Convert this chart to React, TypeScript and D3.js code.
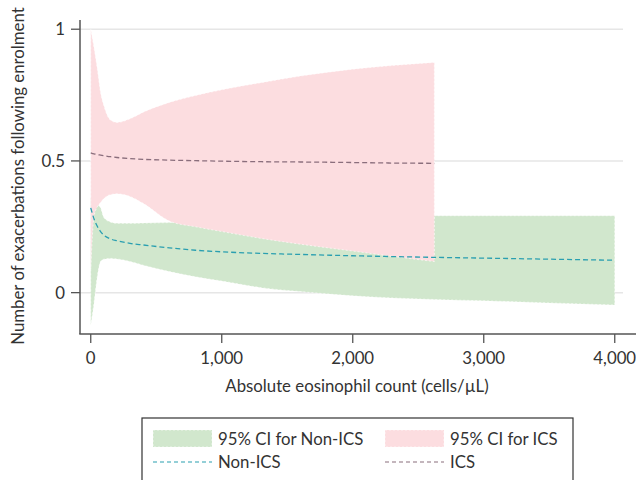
import React, { useEffect, useRef } from 'react'
import * as d3 from 'd3'

// eosinophil count positions (cells/µL) where the curves were read
const eosX = [0, 25, 50, 75, 100, 150, 200, 300, 400, 600, 800, 1000, 1300, 1600, 2000, 2300, 2623, 3000, 3500, 4000]

// Non-ICS: fitted line and 95% CI
const nonIcsFit = [0.322, 0.28, 0.252, 0.232, 0.218, 0.204, 0.197, 0.187, 0.181, 0.17, 0.161, 0.155, 0.149, 0.145, 0.14, 0.137, 0.134, 0.131, 0.127, 0.123]
const nonIcsLow = [-0.125, -0.04, 0.06, 0.118, 0.127, 0.13, 0.128, 0.118, 0.104, 0.08, 0.06, 0.044, 0.019, 0.004, -0.012, -0.02, -0.026, -0.031, -0.039, -0.047]
const nonIcsHigh = [0.36, 0.345, 0.335, 0.322, 0.285, 0.268, 0.263, 0.263, 0.264, 0.266, 0.27, 0.273, 0.277, 0.281, 0.286, 0.289, 0.292, 0.292, 0.292, 0.292]

// ICS: fitted line and 95% CI (data stops at 2623)
const icsFit = [0.531, 0.527, 0.524, 0.522, 0.52, 0.516, 0.513, 0.509, 0.506, 0.503, 0.501, 0.499, 0.497, 0.496, 0.494, 0.492, 0.491]
const icsLow = [0.09, 0.29, 0.325, 0.342, 0.357, 0.372, 0.375, 0.365, 0.339, 0.272, 0.25, 0.232, 0.206, 0.184, 0.158, 0.138, 0.118]
const icsHigh = [1.0, 0.93, 0.85, 0.76, 0.71, 0.655, 0.646, 0.66, 0.685, 0.722, 0.748, 0.77, 0.797, 0.822, 0.848, 0.862, 0.874]

const xTicks = [0, 1000, 2000, 3000, 4000]
const yTicks = [0, 0.5, 1]

const GREEN = '#d1e7cd'
const PINK = '#fcdde0'
const TEAL = '#2a9fb0'
const MAUVE = '#8a6e7c'
const FONT = 'Lato, "Open Sans", sans-serif'
const FS = 16.8

const App = () => {
  const ref = useRef<SVGSVGElement>(null)

  useEffect(() => {
    const svg = d3.select(ref.current)
    svg.selectAll('*').remove()

    const x = d3.scaleLinear().domain([-82, 4063]).range([80, 623])
    const y = d3.scaleLinear().domain([-0.157, 1.035]).range([334, 20])

    // grid
    svg
      .append('g')
      .selectAll('line')
      .data(yTicks)
      .join('line')
      .attr('x1', 80)
      .attr('x2', 623)
      .attr('y1', (d) => y(d))
      .attr('y2', (d) => y(d))
      .attr('stroke', '#e6e6e6')
      .attr('stroke-width', 1.5)

    const band = (xs: number[], lo: number[], hi: number[]) =>
      d3
        .area<number>()
        .x((d) => x(xs[d]))
        .y0((d) => y(lo[d]))
        .y1((d) => y(hi[d]))
        .curve(d3.curveMonotoneX)(d3.range(lo.length))

    const line = (xs: number[], v: number[]) =>
      d3
        .line<number>()
        .x((d) => x(xs[d]))
        .y((d) => y(v[d]))
        .curve(d3.curveMonotoneX)(d3.range(v.length))

    const bands = [
      { d: band(eosX, nonIcsLow, nonIcsHigh), fill: GREEN },
      { d: band(eosX, icsLow, icsHigh), fill: PINK },
    ]
    bands.forEach((b) => {
      svg
        .append('path')
        .attr('d', b.d)
        .attr('fill', b.fill)
        .attr('stroke', '#fff')
        .attr('stroke-opacity', 0.6)
        .attr('stroke-width', 1)
        .attr('stroke-dasharray', '2,2')
    })

    svg
      .append('path')
      .attr('d', line(eosX, nonIcsFit))
      .attr('fill', 'none')
      .attr('stroke', TEAL)
      .attr('stroke-width', 1.3)
      .attr('stroke-dasharray', '5,3')
    svg
      .append('path')
      .attr('d', line(eosX, icsFit))
      .attr('fill', 'none')
      .attr('stroke', MAUVE)
      .attr('stroke-width', 1.3)
      .attr('stroke-dasharray', '5,3')

    // axes
    const axisColor = '#555'
    svg
      .append('line')
      .attr('x1', 80)
      .attr('x2', 80)
      .attr('y1', 20)
      .attr('y2', 334)
      .attr('stroke', axisColor)
      .attr('stroke-width', 1.5)
    svg
      .append('line')
      .attr('x1', 79.25)
      .attr('x2', 636)
      .attr('y1', 334)
      .attr('y2', 334)
      .attr('stroke', axisColor)
      .attr('stroke-width', 1.5)

    const yt = svg.append('g').selectAll('g').data(yTicks).join('g')
    yt.append('line')
      .attr('x1', 71)
      .attr('x2', 80)
      .attr('y1', (d) => y(d))
      .attr('y2', (d) => y(d))
      .attr('stroke', axisColor)
      .attr('stroke-width', 1.3)
    yt.append('text')
      .attr('x', 65)
      .attr('y', (d) => y(d))
      .attr('dy', '0.35em')
      .attr('text-anchor', 'end')
      .attr('font-family', FONT)
      .attr('font-size', FS)
      .attr('fill', '#333')
      .text((d) => String(d))

    const xt = svg.append('g').selectAll('g').data(xTicks).join('g')
    xt.append('line')
      .attr('x1', (d) => x(d))
      .attr('x2', (d) => x(d))
      .attr('y1', 334)
      .attr('y2', 343)
      .attr('stroke', axisColor)
      .attr('stroke-width', 1.3)
    xt.append('text')
      .attr('x', (d) => x(d))
      .attr('y', 363.5)
      .attr('text-anchor', 'middle')
      .attr('font-family', FONT)
      .attr('font-size', FS)
      .attr('fill', '#333')
      .text((d) => d3.format(',')(d))

    svg
      .append('text')
      .attr('x', 357)
      .attr('y', 391.5)
      .attr('text-anchor', 'middle')
      .attr('font-family', FONT)
      .attr('font-size', FS)
      .attr('fill', '#333')
      .text('Absolute eosinophil count (cells/µL)')

    svg
      .append('text')
      .attr('transform', 'translate(24,176) rotate(-90)')
      .attr('text-anchor', 'middle')
      .attr('font-family', FONT)
      .attr('font-size', FS)
      .attr('fill', '#333')
      .text('Number of exacerbations following enrolment')

    // legend
    const lg = svg.append('g')
    lg.append('rect')
      .attr('x', 142)
      .attr('y', 418)
      .attr('width', 431)
      .attr('height', 80)
      .attr('fill', '#fff')
      .attr('stroke', '#333')
      .attr('stroke-width', 1.2)

    const items = [
      { label: '95% CI for Non-ICS', kind: 'area', color: GREEN, lx: 153, row: 0 },
      { label: '95% CI for ICS', kind: 'area', color: PINK, lx: 385, row: 0 },
      { label: 'Non-ICS', kind: 'line', color: TEAL, lx: 153, row: 1 },
      { label: 'ICS', kind: 'line', color: MAUVE, lx: 385, row: 1 },
    ]
    items.forEach((it) => {
      const cy = 438.5 + it.row * 23.5
      if (it.kind === 'area') {
        lg.append('rect')
          .attr('x', it.lx)
          .attr('y', cy - 8.5)
          .attr('width', 59)
          .attr('height', 17)
          .attr('fill', it.color)
          .attr('stroke', '#fff')
          .attr('stroke-opacity', 0.6)
          .attr('stroke-dasharray', '2,2')
      } else {
        lg.append('line')
          .attr('x1', it.lx)
          .attr('x2', it.lx + 59)
          .attr('y1', cy)
          .attr('y2', cy)
          .attr('stroke', it.color)
          .attr('stroke-width', 1.1)
          .attr('stroke-dasharray', '4,3')
      }
      lg.append('text')
        .attr('x', it.lx + 65)
        .attr('y', cy)
        .attr('dy', '0.36em')
        .attr('font-family', FONT)
        .attr('font-size', FS)
        .attr('fill', '#333')
        .text(it.label)
    })
  })

  return (
    <svg
      ref={ref}
      width={636}
      height={480}
      style={{ position: 'absolute', left: 0, top: 0, background: '#fff' }}
    />
  )
}

export default App
